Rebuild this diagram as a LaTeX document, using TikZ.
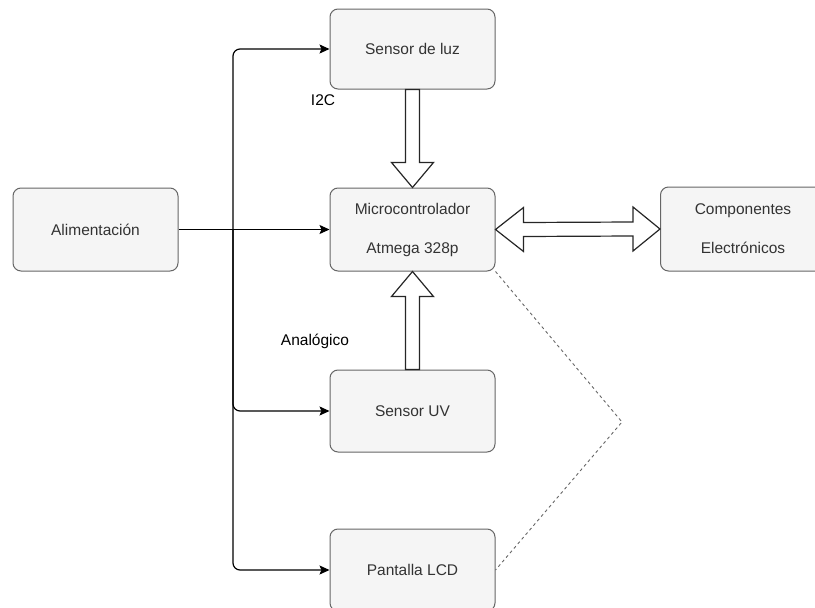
\documentclass[tikz,border=0pt]{standalone}
\usepackage{fontspec}
\setmainfont{Liberation Sans}
\usetikzlibrary{arrows.meta,calc}
\definecolor{boxfill}{HTML}{F5F5F5}
\definecolor{boxline}{HTML}{666666}
\definecolor{boxtext}{HTML}{333333}
\begin{document}
\begin{tikzpicture}[x=1pt,y=-1pt,
  block/.style={draw=boxline, fill=boxfill, rounded corners=8pt, minimum width=165pt,
    minimum height=82pt, inner sep=0pt, text=boxtext, align=center,
    font=\fontsize{15.5}{39}\selectfont, line width=1pt},
  tag/.style={text=black, inner sep=0pt, font=\fontsize{15.5}{19}\selectfont},
  pwr/.style={draw=black, line width=1.2pt, -{Stealth[length=10pt,width=9pt,inset=2pt]}},
  hollow/.style={draw=black!85, fill=white, line width=1.2pt, line join=miter},
  dashline/.style={draw=boxline, line width=0.9pt, dash pattern=on 3pt off 3pt}]
\useasboundingbox (0,0) rectangle (815,608);

% blocks
\node[block, minimum height=80pt] (luz) at (412.5,49) {Sensor de luz};
\node[block, minimum height=83pt] (mcu) at (412.5,229.5) {Microcontrolador\\Atmega 328p};
\node[block] (uv) at (412.5,411) {Sensor UV};
\node[block] (lcd) at (412.5,570) {Pantalla LCD};
\node[block, minimum height=83pt] (alim) at (95.5,229.5) {Alimentación};
\node[block, minimum height=84pt] (comp) at (743,229) {Componentes\\Electrónicos};

% labels
\node[tag] (i2c) at (323,100) {I2C};
\node[tag] (ana) at (315,341) {Analógico};

% power distribution
\coordinate (split) at (233,229.5);
\draw[pwr] (alim.east) -- (mcu.west);
\draw[pwr, rounded corners=7pt] (split) |- (luz.west);
\draw[pwr, rounded corners=7pt] (split) |- (uv.west);
\draw[pwr, rounded corners=7pt] (split) |- (lcd.west);

% light sensor -> microcontroller (I2C bus)
\draw[hollow] ($(luz.south)+(-7,0)$) -- ($(mcu.north)+(-7,-25)$) -- ($(mcu.north)+(-21,-25)$)
  -- (mcu.north) -- ($(mcu.north)+(21,-25)$) -- ($(mcu.north)+(7,-25)$) -- ($(luz.south)+(7,0)$) -- cycle;

% UV sensor -> microcontroller (analog)
\draw[hollow] ($(uv.north)+(-7,0)$) -- ($(mcu.south)+(-7,25)$) -- ($(mcu.south)+(-21,25)$)
  -- (mcu.south) -- ($(mcu.south)+(21,25)$) -- ($(mcu.south)+(7,25)$) -- ($(uv.north)+(7,0)$) -- cycle;

% microcontroller <-> components
\draw[hollow] (mcu.east) -- ($(mcu.east)+(28,-22)$) -- ($(mcu.east)+(28,-7)$)
  -- ($(comp.west)+(-27,-7)$) -- ($(comp.west)+(-27,-22)$) -- (comp.west)
  -- ($(comp.west)+(-27,22)$) -- ($(comp.west)+(-27,7)$) -- ($(mcu.east)+(28,7)$)
  -- ($(mcu.east)+(28,22)$) -- cycle;

% display link
\coordinate (bend) at (622,422);
\draw[dashline] (mcu.south east) -- (bend) -- (lcd.east);
\end{tikzpicture}
\end{document}
